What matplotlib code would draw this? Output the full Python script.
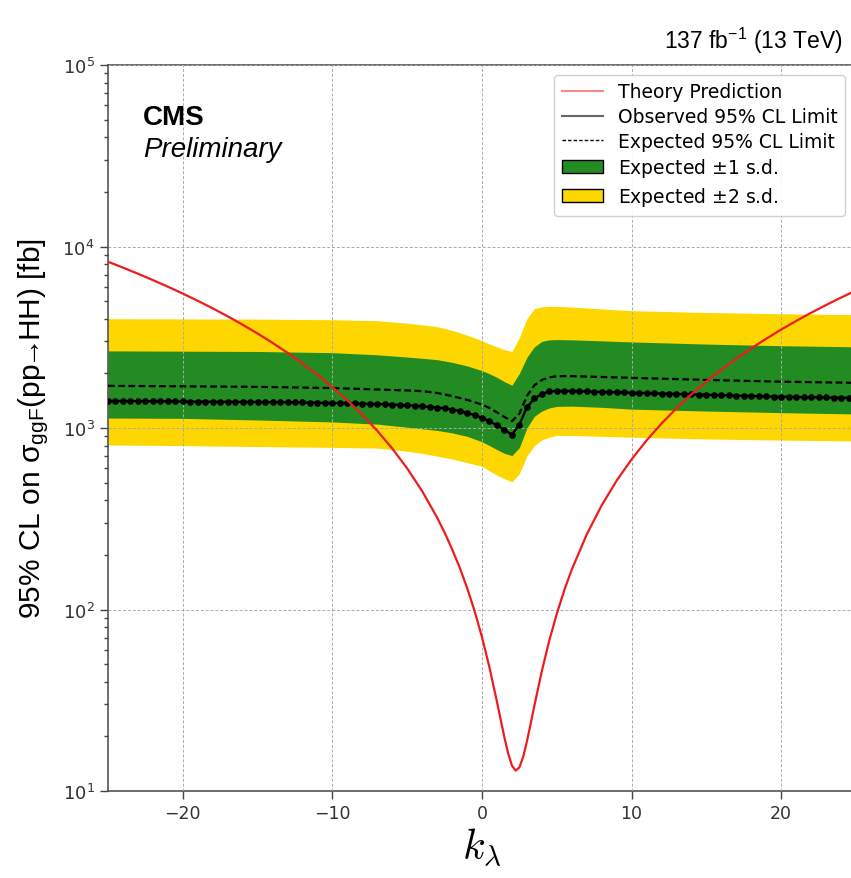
import matplotlib
matplotlib.use("Agg")
import matplotlib.pyplot as plt
from matplotlib.lines import Line2D
from matplotlib.patches import Patch
import numpy as np

plt.rcParams['mathtext.fontset'] = 'dejavusans'
plt.rcParams['mathtext.rm'] = 'Liberation Sans'
plt.rcParams['mathtext.it'] = 'Liberation Sans:italic'
plt.rcParams['mathtext.bf'] = 'Liberation Sans:bold'

# observed limit, kappa_lambda from -25 to 25 in steps of 0.5
kl_obs = np.arange(-25, 25.01, 0.5)
obs = [1410, 1409, 1408, 1407, 1406, 1405, 1404, 1403, 1402, 1401,
       1400, 1399, 1398, 1397, 1396, 1395, 1394, 1393, 1392, 1391,
       1390, 1389, 1388, 1386, 1385, 1383, 1382, 1380, 1378, 1376,
       1374, 1371, 1368, 1365, 1362, 1358, 1354, 1350, 1345, 1340,
       1334, 1327, 1319, 1309, 1297, 1283, 1264, 1240, 1212, 1177,
       1138, 1090, 1035, 975, 920, 1045, 1300, 1455, 1540, 1590,
       1600, 1600, 1597, 1593, 1589, 1585, 1581, 1577, 1573, 1569,
       1565, 1561, 1557, 1553, 1549, 1545, 1541, 1537, 1533, 1529,
       1525, 1521, 1517, 1513, 1509, 1505, 1501, 1497, 1494, 1491,
       1488, 1485, 1482, 1479, 1477, 1475, 1473, 1471, 1469, 1467,
       1465]

# expected limit and bands
kl_exp = [-25, -20, -15, -10, -7, -5, -4, -3, -2, -1, 0, 0.5, 1, 1.5, 2,
          2.5, 3, 3.5, 4, 4.5, 5, 6, 8, 10, 15, 20, 25]
exp = [1707, 1697, 1685, 1660, 1630, 1610, 1596, 1560, 1500, 1430, 1345,
       1290, 1220, 1150, 1090, 1200, 1500, 1720, 1840, 1900, 1930, 1930,
       1910, 1890, 1840, 1800, 1773]
up1 = [2660, 2650, 2640, 2600, 2530, 2460, 2420, 2380, 2300, 2200, 2070,
       1990, 1900, 1800, 1720, 2000, 2450, 2800, 3000, 3060, 3070, 3060,
       3020, 2980, 2900, 2840, 2800]
dn1 = [1135, 1130, 1107, 1080, 1050, 1010, 990, 970, 940, 900, 840,
       800, 760, 725, 705, 780, 1000, 1160, 1240, 1290, 1315, 1320,
       1300, 1270, 1240, 1215, 1195]
up2 = [4000, 3990, 3980, 3950, 3900, 3780, 3700, 3620, 3450, 3250, 3030,
       2900, 2800, 2700, 2640, 3150, 4000, 4550, 4650, 4680, 4680, 4640,
       4530, 4430, 4330, 4260, 4210]
dn2 = [806, 800, 790, 782, 775, 745, 725, 700, 675, 645, 615,
       580, 550, 525, 505, 560, 700, 800, 860, 890, 910, 910,
       900, 890, 870, 858, 848]

# theory prediction
kl_th = [-25, -24, -23, -22, -21, -20, -19, -18, -17, -16, -15, -14, -13,
         -12, -11, -10, -9, -8, -7, -6, -5, -4, -3, -2.5, -2, -1.5, -1,
         -0.5, 0, 0.5, 1, 1.25, 1.5, 1.75, 2, 2.25, 2.5, 2.75, 3, 3.25,
         3.5, 4, 4.5, 5, 5.5, 6, 7, 8, 9, 10, 11, 12, 13, 14, 15, 16, 17,
         18, 19, 20, 21, 22, 23, 24, 25]
theory = [8243, 7651, 7081, 6532, 6006, 5503, 5021, 4561, 4124, 3708, 3315,
          2944, 2595, 2268, 1963, 1681, 1420, 1182, 965, 771, 599, 449, 321,
          265.5, 215, 170.9, 131.9, 98.4, 70.4, 47.9, 31.0, 24.7, 19.7, 16.1,
          13.8, 12.96, 13.5, 15.4, 18.7, 23.4, 29.5, 45.8, 67.6, 94.8, 127.7,
          166, 259, 375, 513, 672, 854, 1058, 1284, 1532, 1803, 2095, 2410,
          2746, 3105, 3486, 3889, 4314, 4762, 5231, 5723]

fig = plt.figure(figsize=(8.51, 8.79), dpi=100)
ax = fig.add_axes([108 / 851, 87 / 879, 748 / 851, 726 / 879])

ax.fill_between(kl_exp, dn2, up2, color='gold', lw=0, zorder=1)
ax.fill_between(kl_exp, dn1, up1, color='forestgreen', lw=0, zorder=1.1)
ax.plot(kl_exp, exp, color='black', lw=1.6, ls=(0, (3, 1.6)), zorder=3)
ax.plot(kl_obs, obs, color='black', lw=1.7, marker='o', ms=3.8, zorder=3)
ax.plot(kl_th, theory, color='#ee1c1c', lw=1.6, zorder=4)

ax.set_yscale('log')
ax.set_xlim(-25, 25)
ax.set_ylim(10, 1e5)
ax.set_xticks([-20, -10, 0, 10, 20])
ax.set_axisbelow(False)
ax.grid(True, which='major', color='#aaaaaa', ls=(0, (3, 2)), lw=0.7)
ax.tick_params(which='major', direction='out', length=6, width=1,
               colors='#444444', labelsize=12.5, labelcolor='#333333')
ax.tick_params(axis='y', which='major', labelsize=13)
ax.tick_params(which='minor', direction='out', length=3, width=1,
               colors='#444444')
for s in ax.spines.values():
    s.set_color('#555555')
    s.set_linewidth(1.2)

ax.set_xlabel(r'$k_\lambda$', fontsize=30, math_fontfamily='cm', labelpad=2)
ax.set_ylabel('95% CL on σ$_{\\mathrm{ggF}}$(pp$\\!\\!\\rightarrow\\!\\!$HH) [fb]',
              fontsize=21.5, family=['Liberation Sans', 'DejaVu Sans'],
              math_fontfamily='custom', labelpad=8)

ax.text(0.047, 0.928, 'CMS', transform=ax.transAxes, fontsize=20,
        fontweight='bold', family='Liberation Sans', va='center')
ax.text(0.047, 0.884, 'Preliminary', transform=ax.transAxes, fontsize=20,
        style='italic', family='Liberation Sans', va='center')
fig.text(843 / 851, 1 - 49 / 879, r'137 fb$^{\mathrm{-1}}$ (13 TeV)',
         fontsize=16.5, family='Liberation Sans', math_fontfamily='custom',
         ha='right', va='baseline')

handles = [
    Line2D([], [], color='#ee1c1c', lw=1.5, alpha=0.5),
    Line2D([], [], color='black', lw=1.5, alpha=0.6),
    Line2D([], [], color='black', lw=1.0, ls=(0, (2.5, 1.5))),
    Patch(facecolor='forestgreen', edgecolor='black'),
    Patch(facecolor='gold', edgecolor='black'),
]
labels = ['Theory Prediction', 'Observed 95% CL Limit',
          'Expected 95% CL Limit', r'Expected $\pm$1 s.d.',
          r'Expected $\pm$2 s.d.']
leg = fig.legend(handles, labels, loc='upper right',
                 bbox_to_anchor=(845 / 851, 1 - 76 / 879), borderaxespad=0,
                 fontsize=13.5, handlelength=2.2, handletextpad=0.8,
                 labelspacing=0.3, framealpha=0.9, edgecolor='#cccccc')

fig.savefig('out.png', dpi=100)
